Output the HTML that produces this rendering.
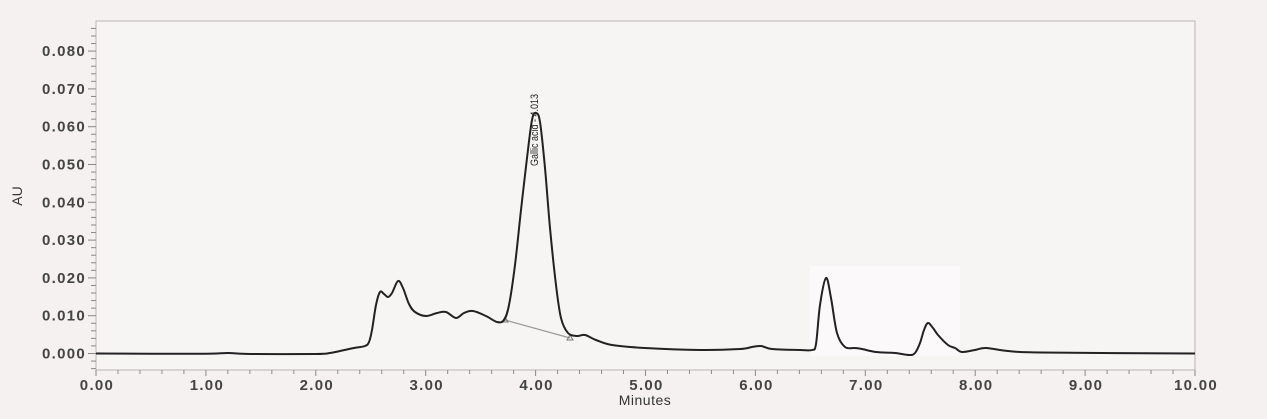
<!DOCTYPE html>
<html><head><meta charset="utf-8"><style>
html,body{margin:0;padding:0;background:#f5f1f1;}
svg{display:block;font-family:"Liberation Sans",Arial,sans-serif;}
</style></head><body>
<svg id="s" width="1267" height="419" viewBox="0 0 1267 419" xmlns="http://www.w3.org/2000/svg">
<rect x="0" y="0" width="1267" height="419" fill="#f5f1f1"/>
<rect x="96" y="21" width="1099" height="349" fill="#f7f4f4" stroke="#b8b5b5" stroke-width="1"/>
<rect x="810" y="266" width="150" height="90" fill="#fbf9f9"/>
<g id="ticks" stroke="#8a8888" stroke-width="1"></g>
<g id="labels" fill="#444" font-size="15" font-weight="bold" letter-spacing="1.3"></g>
<text x="22" y="196" font-size="14" fill="#333" transform="rotate(-90 22 196)" text-anchor="middle">AU</text>
<text x="645" y="405" font-size="14" fill="#333" text-anchor="middle" letter-spacing="0.5">Minutes</text>
<line x1="505" y1="320" x2="570" y2="338" stroke="#999" stroke-width="1.2"/>
<path d="M502,322 l3,-5 l3,5 z M567,340 l3,-5 l3,5 z" fill="none" stroke="#777" stroke-width="1"/>
<path id="curve" fill="none" stroke="#222" stroke-width="2" stroke-linejoin="round"/>
<text x="538" y="130" font-size="11" fill="#222" transform="rotate(-90 538 130)" text-anchor="middle" textLength="72" lengthAdjust="spacingAndGlyphs">Gallic acid - 4.013</text>
</svg>
<script>
var ns="http://www.w3.org/2000/svg";
var t=document.getElementById('ticks'),l=document.getElementById('labels');
function ln(x1,y1,x2,y2){var e=document.createElementNS(ns,'line');e.setAttribute('x1',x1);e.setAttribute('y1',y1);e.setAttribute('x2',x2);e.setAttribute('y2',y2);t.appendChild(e);}
function tx(x,y,s,a){var e=document.createElementNS(ns,'text');e.setAttribute('x',x);e.setAttribute('y',y);e.setAttribute('text-anchor',a);e.textContent=s;l.appendChild(e);}
for(var i=0;i<=50;i++){var x=96+i*109.9/5;ln(x,370,x,i%5==0?376:374);if(i%5==0)tx(x+1,390,(i/5).toFixed(2),'middle');}
for(var v=-4;v<=88;v+=2){var y=353.5-v*3.78;if(y<21||y>370)continue;ln(v%10==0?88:91,y,96,y);if(v%10==0&&v>=0)tx(86,y+5,(v/1000).toFixed(3),'end');}
var p=[[96,353.5],[200,353.8],[228,353],[250,354],[316,354],[330,353],[340,351],[354,348],[365,346],[369,342],[372,330],[376,305],[380,292],[384,294],[388,297],[392,293],[398,281],[403,288],[409,304],[415,312],[426,316],[437,313],[446,312],[456,318],[464,313],[473,311],[486,316],[497,322],[504,320],[509,305],[515,265],[521,210],[527,158],[532,120],[536,113],[540,122],[545,168],[550,228],[556,285],[561,318],[568,333],[577,336],[585,335],[596,340],[612,345],[645,348],[700,350],[740,349],[752,347],[761,346],[772,349],[800,350],[812,350],[816,344],[820,305],[826,278],[831,298],[837,333],[845,347],[855,348],[862,349],[876,352],[895,353],[909,355],[915,353],[920,343],[924,330],[928,323],[933,328],[938,335],[948,345],[955,348],[962,352],[975,350],[986,348],[1008,351],[1041,352.5],[1195,353.5]];
var d='M'+p[0][0]+','+p[0][1];
for(var i=0;i<p.length-1;i++){var p0=p[Math.max(i-1,0)],p1=p[i],p2=p[i+1],p3=p[Math.min(i+2,p.length-1)];
d+=' C'+(p1[0]+(p2[0]-p0[0])/6)+','+(p1[1]+(p2[1]-p0[1])/6)+' '+(p2[0]-(p3[0]-p1[0])/6)+','+(p2[1]-(p3[1]-p1[1])/6)+' '+p2[0]+','+p2[1];}
document.getElementById('curve').setAttribute('d',d);
</script>
</body></html>
